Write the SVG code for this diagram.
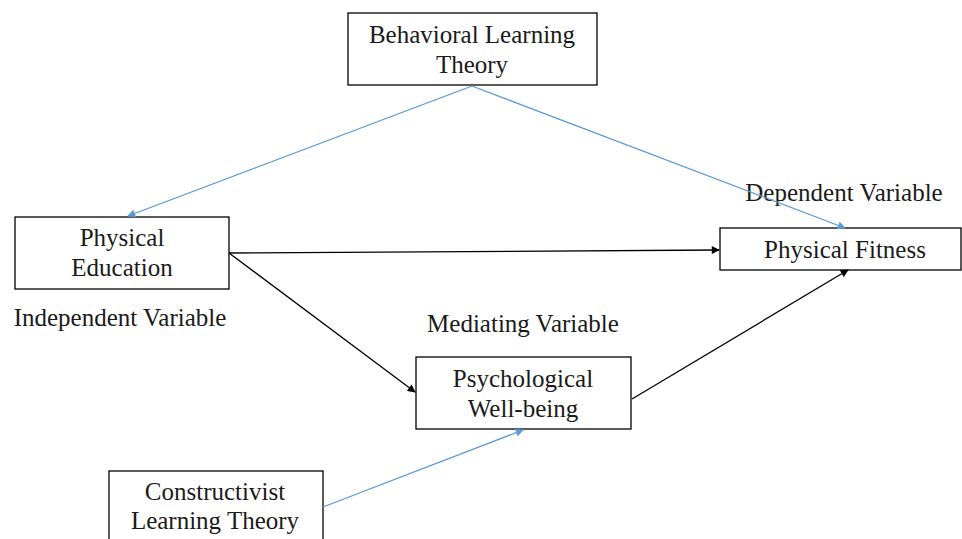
<svg xmlns="http://www.w3.org/2000/svg" width="962" height="539" viewBox="0 0 962 539">
<defs>
<style>
.box{fill:#fff;stroke:#000;stroke-width:1.3}
text{font-family:"Liberation Serif","Times New Roman",serif;font-size:25px;fill:#1a1a1a;text-anchor:middle}
.k{stroke:#000;stroke-width:1.3;fill:none}
.b{stroke:#5b9bd5;stroke-width:1.3;fill:none}
</style>
<marker id="ak" viewBox="0 0 10 10" refX="9" refY="5" markerWidth="9" markerHeight="8" markerUnits="userSpaceOnUse" orient="auto"><path d="M0,0 L10,5 L0,10 z" fill="#000"/></marker>
<marker id="ab" viewBox="0 0 10 10" refX="9" refY="5" markerWidth="9" markerHeight="8" markerUnits="userSpaceOnUse" orient="auto"><path d="M0,0 L10,5 L0,10 z" fill="#5b9bd5"/></marker>
</defs>
<rect width="962" height="539" fill="#fff"/>
<g id="behavioral">
<rect class="box" x="348" y="13" width="249" height="72"/>
<text x="472" y="43">Behavioral Learning</text>
<text x="472" y="73">Theory</text>
</g>
<g id="physical-education">
<rect class="box" x="15" y="217" width="214" height="72"/>
<text x="122" y="246">Physical</text>
<text x="122" y="276">Education</text>
</g>
<g id="independent-label"><text x="120" y="326">Independent Variable</text></g>
<g id="dependent-label"><text x="844" y="201">Dependent Variable</text></g>
<g id="physical-fitness">
<rect class="box" x="720" y="228" width="241" height="42"/>
<text x="845" y="258">Physical Fitness</text>
</g>
<g id="mediating-label"><text x="523" y="332">Mediating Variable</text></g>
<g id="psychological">
<rect class="box" x="416" y="357" width="215" height="72"/>
<text x="523" y="387">Psychological</text>
<text x="523" y="417">Well-being</text>
</g>
<g id="constructivist">
<rect class="box" x="109" y="471" width="214" height="80"/>
<text x="215" y="500">Constructivist</text>
<text x="215" y="529">Learning Theory</text>
</g>
<g id="connectors">
<line class="b" x1="472" y1="86" x2="128" y2="216" marker-end="url(#ab)"/>
<line class="b" x1="472" y1="86" x2="845" y2="228" marker-end="url(#ab)"/>
<line class="k" x1="229" y1="253" x2="719" y2="250" marker-end="url(#ak)"/>
<line class="k" x1="229" y1="253" x2="415" y2="392" marker-end="url(#ak)"/>
<line class="k" x1="632" y1="399" x2="848" y2="270" marker-end="url(#ak)"/>
<line class="b" x1="323" y1="507" x2="523" y2="430" marker-end="url(#ab)"/>
</g>
</svg>
